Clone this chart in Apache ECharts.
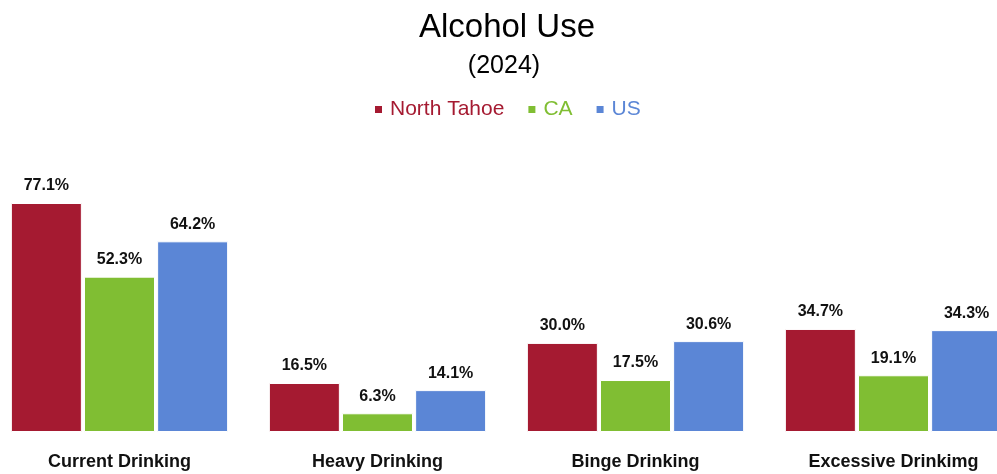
<!DOCTYPE html>
<html>
<head>
<meta charset="utf-8">
<script src="https://cdn.jsdelivr.net/npm/echarts@6/dist/echarts.min.js"></script>
<style>
  html, body { margin: 0; padding: 0; background: #fff; }
  #chart { width: 997px; height: 474px; }
</style>
</head>
<body>
<div id="chart"></div>
<script>
// Alcohol use measures, 2024
const categories = ['Current Drinking', 'Heavy Drinking', 'Binge Drinking', 'Excessive Drinkimg'];
const northTahoe = [77.1, 16.5, 30.0, 34.7];
const ca = [52.3, 6.3, 17.5, 19.1];
const us = [64.2, 14.1, 30.6, 34.3];

const seriesNames = ['North Tahoe', 'CA', 'US'];
const seriesColors = ['#A51A31', '#80BE33', '#5B86D6'];
const sans = '"Liberation Sans", Arial, sans-serif';

const chart = echarts.init(document.getElementById('chart'));

function barSeries(name, data, color) {
  return {
    name: name,
    type: 'bar',
    data: data,
    barWidth: 71,
    barGap: '3%',
    itemStyle: { color: color, borderColor: '#ffffff', borderWidth: 1 },
    label: {
      show: true,
      position: 'top',
      distance: 9,
      formatter: p => p.value.toFixed(1) + '%',
      fontFamily: sans,
      fontWeight: 'bold',
      fontSize: 16,
      color: '#111'
    }
  };
}

chart.setOption({
  backgroundColor: '#ffffff',
  animation: false,
  title: [
    {
      text: 'Alcohol Use',
      left: 502,
      textAlign: 'center',
      top: 6,
      textStyle: { fontFamily: sans, fontWeight: 'normal', fontSize: 33, color: '#000' }
    },
    {
      text: '(2024)',
      left: 499,
      textAlign: 'center',
      top: 49,
      textStyle: { fontFamily: sans, fontWeight: 'normal', fontSize: 25, color: '#000' }
    }
  ],
  legend: {
    top: 94,
    left: 368,
    icon: 'rect',
    itemWidth: 9,
    itemHeight: 9,
    itemGap: 22,
    data: seriesNames.map((n, i) => ({
      name: n,
      textStyle: { color: seriesColors[i] }
    })),
    textStyle: { fontFamily: sans, fontSize: 21, padding: [0, 0, 0, 2] }
  },
  grid: {
    left: -9.5,
    right: -25.5,
    top: 135,
    bottom: 42,
    containLabel: false,
    outerBoundsMode: 'none'
  },
  xAxis: {
    type: 'category',
    data: categories,
    axisLine: { show: false },
    axisTick: { show: false },
    axisLabel: {
      margin: 21,
      fontFamily: sans,
      fontWeight: 'bold',
      fontSize: 18,
      color: '#111'
    }
  },
  yAxis: {
    type: 'value',
    min: 0,
    max: 100,
    show: false,
    splitLine: { show: false }
  },
  series: [
    barSeries(seriesNames[0], northTahoe, seriesColors[0]),
    barSeries(seriesNames[1], ca, seriesColors[1]),
    barSeries(seriesNames[2], us, seriesColors[2])
  ]
});
</script>
</body>
</html>
